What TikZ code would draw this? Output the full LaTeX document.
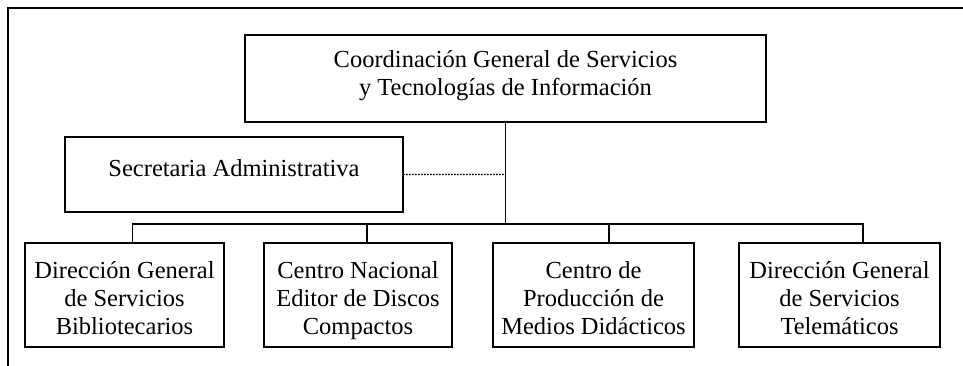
\documentclass[tikz,border=0pt]{standalone}
\usepackage{fontspec}
\setmainfont{Liberation Serif}
\newcommand\tstrut{\rule{0pt}{22pt}}
\begin{document}
\begin{tikzpicture}[x=1pt,y=-1pt,
  box/.style={draw, line width=1.8pt, inner sep=0pt},
  lbl/.style={inner sep=0pt, align=center, anchor=north, font=\fontsize{24.5}{28}\selectfont},
  conn/.style={line width=1.6pt},
  dotconn/.style={line width=2pt, line cap=round, dash pattern=on 0pt off 3pt}]
\useasboundingbox (0,0) rectangle (963,366);
\draw[line width=2pt] (963,8) -- (8,8) -- (8,366);
% boxes
\node[box, minimum width=521pt, minimum height=87pt] (top) at (505.5,78.5) {};
\node[box, minimum width=338pt, minimum height=75pt] (sec) at (234,174.5) {};
\node[box, minimum width=199pt, minimum height=104pt] (b1) at (124.5,295) {};
\node[box, minimum width=188pt, minimum height=104pt] (b2) at (358,295) {};
\node[box, minimum width=201pt, minimum height=104pt] (b3) at (593.5,295) {};
\node[box, minimum width=201pt, minimum height=104pt] (b4) at (839.5,295) {};
% texts
\node[lbl] (ttop) at (505.5,45) {\tstrut Coordinación General de Servicios\\y Tecnologías de Información};
\node[lbl] (tsec) at (234,154) {\tstrut Secretaria Administrativa};
\node[lbl] (tb1) at (124.5,256) {\tstrut Dirección General\\de Servicios\\Bibliotecarios};
\node[lbl] (tb2) at (358,256) {\tstrut Centro Nacional\\Editor de Discos\\Compactos};
\node[lbl] (tb3) at (593.5,256) {\tstrut Centro de\\Producción de\\Medios Didácticos};
\node[lbl] (tb4) at (839.5,256) {\tstrut Dirección General\\de Servicios\\Telemáticos};
% connectors
\coordinate (d1) at (132.5,224);
\coordinate (d2) at (367,224);
\coordinate (d3) at (609,224);
\coordinate (d4) at (863,224);
\draw[conn] (top.south) -- (top.south |- d1);
\draw[conn] (d1 |- b1.north) -- (d1) -- (d4) -- (d4 |- b4.north);
\draw[conn] (d2) -- (d2 |- b2.north);
\draw[conn] (d3) -- (d3 |- b3.north);
\draw[dotconn] (sec.east) -- (sec.east -| top.south);
\end{tikzpicture}
\end{document}
